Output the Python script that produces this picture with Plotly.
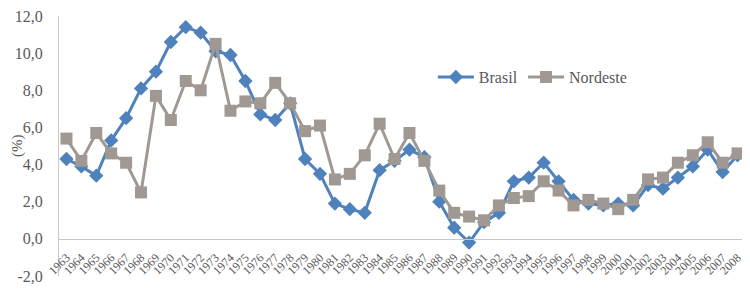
import plotly.graph_objects as go

years = [str(y) for y in range(1963, 2009)]

brasil = [4.3, 3.9, 3.4, 5.3, 6.5, 8.1, 9.0, 10.6, 11.4, 11.1,
          10.1, 9.9, 8.5, 6.7, 6.4, 7.3, 4.3, 3.5, 1.9, 1.6,
          1.4, 3.7, 4.2, 4.8, 4.4, 2.0, 0.6, -0.2, 0.9, 1.4,
          3.1, 3.3, 4.1, 3.1, 2.1, 1.9, 1.8, 1.9, 1.8, 2.9,
          2.7, 3.3, 3.9, 4.8, 3.6, 4.5]

nordeste = [5.4, 4.2, 5.7, 4.6, 4.1, 2.5, 7.7, 6.4, 8.5, 8.0,
            10.5, 6.9, 7.4, 7.3, 8.4, 7.3, 5.8, 6.1, 3.2, 3.5,
            4.5, 6.2, 4.3, 5.7, 4.2, 2.6, 1.4, 1.2, 1.0, 1.8,
            2.2, 2.3, 3.1, 2.6, 1.8, 2.1, 1.9, 1.6, 2.1, 3.2,
            3.3, 4.1, 4.5, 5.2, 4.1, 4.6]

y_tickvals = [-2, 0, 2, 4, 6, 8, 10, 12]
y_ticktext = ["-2,0", "0,0", "2,0", "4,0", "6,0", "8,0", "10,0", "12,0"]

BLUE = "#4F81BD"
GRAY = "#A09892"
TXT = "#595959"
FONT = "'Liberation Serif', 'Times New Roman', 'DejaVu Serif', serif"

fig = go.Figure()
fig.add_trace(go.Scatter(
    x=years, y=brasil, name="Brasil", mode="lines+markers",
    line=dict(color=BLUE, width=3),
    marker=dict(symbol="diamond", size=11, color=BLUE),
    legend="legend",
))
fig.add_trace(go.Scatter(
    x=years, y=nordeste, name="Nordeste", mode="lines+markers",
    line=dict(color=GRAY, width=3),
    marker=dict(symbol="square", size=12, color=GRAY),
    legend="legend2",
))

leg_common = dict(orientation="h", xanchor="left", yanchor="middle",
                  font=dict(size=16, color=TXT, family=FONT),
                  bgcolor="rgba(0,0,0,0)", itemwidth=36)

fig.update_layout(
    width=742, height=285,
    margin=dict(l=51, r=5, t=8, b=17, autoexpand=False),
    paper_bgcolor="white", plot_bgcolor="white",
    font=dict(family=FONT, color=TXT),
    showlegend=True,
    legend=dict(x=0.545, y=0.765, **leg_common),
    legend2=dict(x=0.6764, y=0.765, **leg_common),
    annotations=[dict(text="(%)", textangle=-90, xref="paper", yref="paper",
                      x=(17 - 59) / 686, y=0.5, xanchor="center", yanchor="middle",
                      showarrow=False, font=dict(size=15, family=FONT, color=TXT))],
)
fig.update_xaxes(
    type="category", range=[-0.5, 45.5],
    anchor="free", position=(0 - (-2)) / 14,
    showline=True, linecolor="#C8C8C8", linewidth=1,
    showgrid=False, zeroline=False, automargin=False,
    tickangle=-45, tickfont=dict(size=12, family=FONT, color=TXT),
    ticks="", ticklabelstandoff=6,
)
fig.update_yaxes(
    range=[-2, 12], tickvals=y_tickvals, ticktext=y_ticktext,
    showline=True, linecolor="#C8C8C8", linewidth=1,
    showgrid=False, zeroline=False, automargin=False,
    tickfont=dict(size=16, family=FONT, color=TXT),
    ticklabelstandoff=12, ticklabeloverflow="allow",
)

fig.write_html("out.html")
